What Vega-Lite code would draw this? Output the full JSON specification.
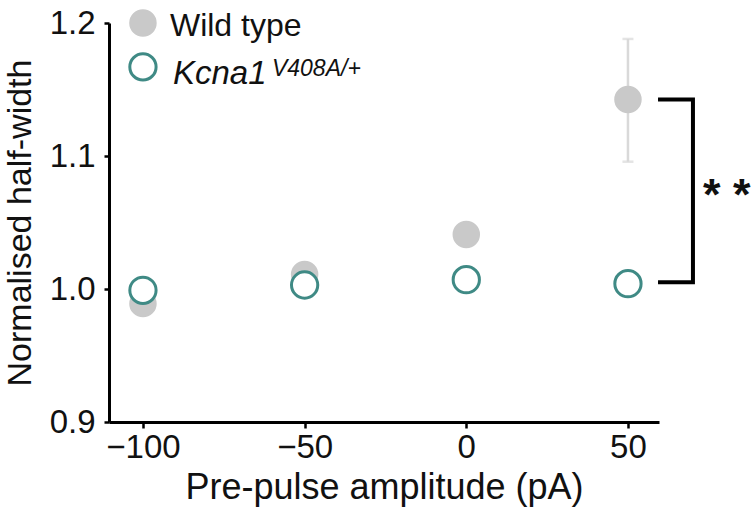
{
  "$schema": "https://vega.github.io/schema/vega-lite/v6.json",
  "width": 550,
  "height": 399,
  "autosize": "none",
  "padding": {"left": 109, "top": 23, "right": 93, "bottom": 86},
  "background": "white",
  "config": {"view": {"stroke": null}, "font": "Liberation Sans"},
  "datasets": {
    "pts": [
      {"amp": -100, "genotype": "Wild type", "value": 0.989},
      {"amp": -50, "genotype": "Wild type", "value": 1.011},
      {"amp": 0, "genotype": "Wild type", "value": 1.041},
      {"amp": 50, "genotype": "Wild type", "value": 1.1425},
      {"amp": -100, "genotype": "Kcna1", "value": 0.999},
      {"amp": -50, "genotype": "Kcna1", "value": 1.003},
      {"amp": 0, "genotype": "Kcna1", "value": 1.007},
      {"amp": 50, "genotype": "Kcna1", "value": 1.004}
    ],
    "err": [{"amp": 50, "lo": 1.0957, "hi": 1.188}],
    "bracket": [
      {"bx": 59.3, "by": 1.1425, "o": 1},
      {"bx": 70.1, "by": 1.1425, "o": 2},
      {"bx": 70.1, "by": 1.005, "o": 3},
      {"bx": 59.3, "by": 1.005, "o": 4}
    ],
    "sig": [{"sx": 73.2, "sy": 1.0775, "label": "* *"}],
    "legend": [
      {"lx": -100, "ly": 1.2, "genotype": "Wild type", "label": "Wild type", "sup": ""},
      {"lx": -100, "ly": 1.167, "genotype": "Kcna1", "label": "Kcna1", "sup": "V408A/+"}
    ]
  },
  "layer": [
    {
      "data": {"name": "err"},
      "mark": {"type": "rule", "color": "#d9d9d9", "strokeWidth": 2.5},
      "encoding": {
        "x": {
          "field": "amp", "type": "quantitative",
          "scale": {"domain": [-110.5, 59.6], "nice": false, "zero": false},
          "axis": {
            "values": [-100, -50, 0, 50],
            "title": "Pre-pulse amplitude (pA)",
            "grid": false,
            "domainColor": "#000000", "domainWidth": 3,
            "tickColor": "#000000", "tickWidth": 2.5, "tickSize": 6,
            "labelFont": "Liberation Sans", "labelFontSize": 33, "labelColor": "#111111", "labelPadding": 3,
            "titleFont": "Liberation Sans", "titleFontSize": 36, "titleFontWeight": "normal", "titleColor": "#111111", "titlePadding": 6
          }
        },
        "y": {
          "field": "lo", "type": "quantitative",
          "scale": {"domain": [0.9, 1.2], "nice": false, "zero": false},
          "axis": {
            "values": [0.9, 1.0, 1.1, 1.2],
            "format": ".1f",
            "title": "Normalised half-width",
            "grid": false,
            "domainColor": "#000000", "domainWidth": 3,
            "tickColor": "#000000", "tickWidth": 2.5, "tickSize": 5,
            "labelFont": "Liberation Sans", "labelFontSize": 33, "labelColor": "#111111", "labelPadding": 9,
            "titleFont": "Liberation Sans", "titleFontSize": 34, "titleFontWeight": "normal", "titleColor": "#111111", "titlePadding": 12
          }
        },
        "y2": {"field": "hi"}
      }
    },
    {
      "data": {"name": "err"},
      "transform": [{"fold": ["lo", "hi"], "as": ["which", "cap"]}],
      "mark": {"type": "tick", "orient": "horizontal", "color": "#d9d9d9", "size": 11, "thickness": 2.5},
      "encoding": {
        "x": {"field": "amp", "type": "quantitative"},
        "y": {"field": "cap", "type": "quantitative"}
      }
    },
    {
      "data": {"name": "pts"},
      "transform": [{"filter": "datum.genotype == 'Wild type'"}],
      "mark": {"type": "circle", "color": "#c9c9c9", "opacity": 1, "size": 755},
      "encoding": {
        "x": {"field": "amp", "type": "quantitative"},
        "y": {"field": "value", "type": "quantitative"}
      }
    },
    {
      "data": {"name": "pts"},
      "transform": [{"filter": "datum.genotype == 'Kcna1'"}],
      "mark": {"type": "point", "shape": "circle", "filled": false, "fill": "white", "fillOpacity": 1, "stroke": "#3f8a85", "strokeWidth": 3, "opacity": 1, "size": 690},
      "encoding": {
        "x": {"field": "amp", "type": "quantitative"},
        "y": {"field": "value", "type": "quantitative"}
      }
    },
    {
      "data": {"name": "bracket"},
      "mark": {"type": "line", "color": "#000000", "strokeWidth": 4, "strokeCap": "butt", "strokeJoin": "miter"},
      "encoding": {
        "x": {"field": "bx", "type": "quantitative"},
        "y": {"field": "by", "type": "quantitative"},
        "order": {"field": "o", "type": "quantitative"}
      }
    },
    {
      "data": {"name": "sig"},
      "mark": {"type": "text", "align": "left", "baseline": "alphabetic", "dy": 24, "fontSize": 45, "fontWeight": "bold", "color": "#111111", "font": "Liberation Sans"},
      "encoding": {
        "x": {"field": "sx", "type": "quantitative"},
        "y": {"field": "sy", "type": "quantitative"},
        "text": {"field": "label"}
      }
    },
    {
      "data": {"name": "legend"},
      "transform": [{"filter": "datum.genotype == 'Wild type'"}],
      "mark": {"type": "circle", "color": "#c9c9c9", "opacity": 1, "size": 755},
      "encoding": {
        "x": {"field": "lx", "type": "quantitative"},
        "y": {"field": "ly", "type": "quantitative"}
      }
    },
    {
      "data": {"name": "legend"},
      "transform": [{"filter": "datum.genotype == 'Kcna1'"}],
      "mark": {"type": "point", "shape": "circle", "filled": false, "fill": "white", "fillOpacity": 1, "stroke": "#3f8a85", "strokeWidth": 3, "opacity": 1, "size": 690},
      "encoding": {
        "x": {"field": "lx", "type": "quantitative"},
        "y": {"field": "ly", "type": "quantitative"}
      }
    },
    {
      "data": {"name": "legend"},
      "transform": [{"filter": "datum.genotype == 'Wild type'"}],
      "mark": {"type": "text", "align": "left", "baseline": "alphabetic", "dx": 27, "dy": 13, "fontSize": 32, "color": "#111111", "font": "Liberation Sans"},
      "encoding": {
        "x": {"field": "lx", "type": "quantitative"},
        "y": {"field": "ly", "type": "quantitative"},
        "text": {"field": "label"}
      }
    },
    {
      "data": {"name": "legend"},
      "transform": [{"filter": "datum.genotype == 'Kcna1'"}],
      "mark": {"type": "text", "align": "left", "baseline": "alphabetic", "dx": 30, "dy": 17, "fontSize": 33, "fontStyle": "italic", "color": "#111111", "font": "Liberation Sans"},
      "encoding": {
        "x": {"field": "lx", "type": "quantitative"},
        "y": {"field": "ly", "type": "quantitative"},
        "text": {"field": "label"}
      }
    },
    {
      "data": {"name": "legend"},
      "transform": [{"filter": "datum.genotype == 'Kcna1'"}],
      "mark": {"type": "text", "align": "left", "baseline": "alphabetic", "dx": 129, "dy": 9, "fontSize": 23, "fontStyle": "italic", "color": "#111111", "font": "Liberation Sans"},
      "encoding": {
        "x": {"field": "lx", "type": "quantitative"},
        "y": {"field": "ly", "type": "quantitative"},
        "text": {"field": "sup"}
      }
    }
  ]
}
